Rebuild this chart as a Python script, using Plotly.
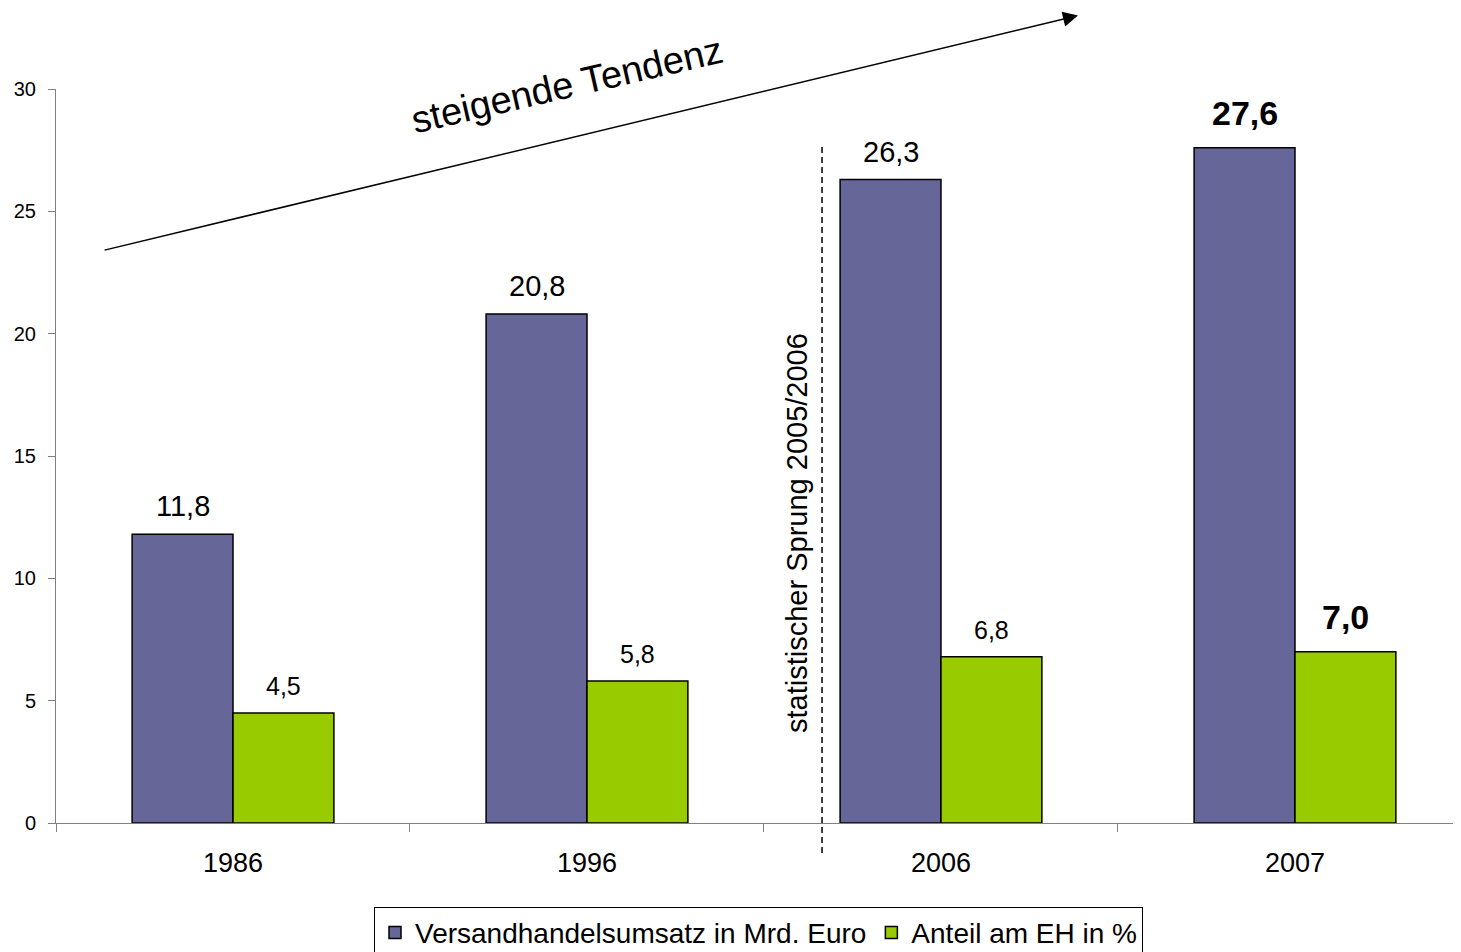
import plotly.graph_objects as go

# ---- data ----
years = ["1986", "1996", "2006", "2007"]
umsatz = [11.8, 20.8, 26.3, 27.6]          # Versandhandelsumsatz in Mrd. Euro
anteil = [4.5, 5.8, 6.8, 7.0]              # Anteil am EH in %
bold_flags = [False, False, False, True]
series_names = ["Versandhandelsumsatz in Mrd. Euro", "Anteil am EH in %"]
y_ticks = [0, 5, 10, 15, 20, 25, 30]

# trend arrow (data coords) and statistical break
arrow_start = (-0.367, 23.4)
arrow_end = (2.387, 33.0)
trend_text_pos = (0.943, 30.15)
break_x = 1.664
break_y = (-1.23, 27.7)
break_text_pos = (1.593, 11.85)

FONT = "Liberation Sans, Arial, sans-serif"
PURPLE = "#666699"
GREEN = "#99CC00"
BARGAP = 0.43
bar_w = (1 - BARGAP) / 2
Y_MAX = 30
PAGE_OFFSET = 8   # default body margin of the html page


def fmt(v):
    return f"{v:.1f}".replace(".", ",")


fig = go.Figure()
fig.add_trace(go.Bar(x=years, y=umsatz, name=series_names[0],
                     marker=dict(color=PURPLE, line=dict(color="black", width=1.5))))
fig.add_trace(go.Bar(x=years, y=anteil, name=series_names[1],
                     marker=dict(color=GREEN, line=dict(color="black", width=1.5))))

annotations = []
for i, (u, a, b) in enumerate(zip(umsatz, anteil, bold_flags)):
    tu = f"<b>{fmt(u)}</b>" if b else fmt(u)
    ta = f"<b>{fmt(a)}</b>" if b else fmt(a)
    annotations.append(dict(x=i - bar_w / 2, y=u, xref="x", yref="y", text=tu,
                            showarrow=False, yanchor="bottom", yshift=14 if b else 10,
                            font=dict(family=FONT, size=34 if b else 29, color="black")))
    annotations.append(dict(x=i + bar_w / 2, y=a, xref="x", yref="y", text=ta,
                            showarrow=False, yanchor="bottom", yshift=14 if b else 11,
                            font=dict(family=FONT, size=34 if b else 25, color="black")))

# trend arrow
annotations.append(dict(x=arrow_end[0], y=arrow_end[1], ax=arrow_start[0], ay=arrow_start[1],
                        xref="x", yref="y", axref="x", ayref="y", text="",
                        showarrow=True, arrowhead=2, arrowsize=2, arrowwidth=1.5,
                        arrowcolor="black"))
annotations.append(dict(x=trend_text_pos[0], y=trend_text_pos[1] / Y_MAX, xref="x", yref="paper",
                        xanchor="center", yanchor="middle",
                        text="steigende Tendenz", showarrow=False, textangle=-13,
                        font=dict(family=FONT, size=38, color="black")))
annotations.append(dict(x=break_text_pos[0], y=break_text_pos[1], xref="x", yref="y",
                        xanchor="center", yanchor="middle",
                        text="statistischer Sprung 2005/2006", showarrow=False, textangle=-90,
                        font=dict(family=FONT, size=29, color="black")))

shapes = [dict(type="line", xref="x", yref="paper", x0=break_x, x1=break_x,
               y0=break_y[0] / Y_MAX, y1=break_y[1] / Y_MAX,
               line=dict(color="black", width=1.5, dash="6px,4px"))]

fig.update_layout(
    width=1461 - PAGE_OFFSET, height=952 - PAGE_OFFSET,
    margin=dict(l=56 - PAGE_OFFSET, r=0, t=89 - PAGE_OFFSET, b=129, autoexpand=False),
    paper_bgcolor="white", plot_bgcolor="white",
    barmode="group", bargap=BARGAP, bargroupgap=0,
    font=dict(family=FONT, color="black"),
    annotations=annotations, shapes=shapes,
    legend=dict(orientation="h", x=0.5, xanchor="center", y=-0.114, yanchor="top",
                xref="paper", yref="paper",
                font=dict(family=FONT, size=28, color="black"),
                bordercolor="black", borderwidth=1, bgcolor="white", itemwidth=30),
    xaxis=dict(type="category", range=[-0.5, 3.469], showgrid=False,
               showline=True, linecolor="#808080", linewidth=1,
               ticks="outside", tickson="boundaries", ticklen=8, tickcolor="#808080",
               ticklabelstandoff=16,
               tickfont=dict(family=FONT, size=27, color="black")),
    yaxis=dict(range=[0, Y_MAX], tickvals=y_ticks, showgrid=False, zeroline=False,
               showline=True, linecolor="#808080", linewidth=1,
               ticks="outside", ticklen=7, tickcolor="#808080",
               ticklabelstandoff=8,
               tickfont=dict(family=FONT, size=20, color="black")),
)

fig.write_html("out.html")
